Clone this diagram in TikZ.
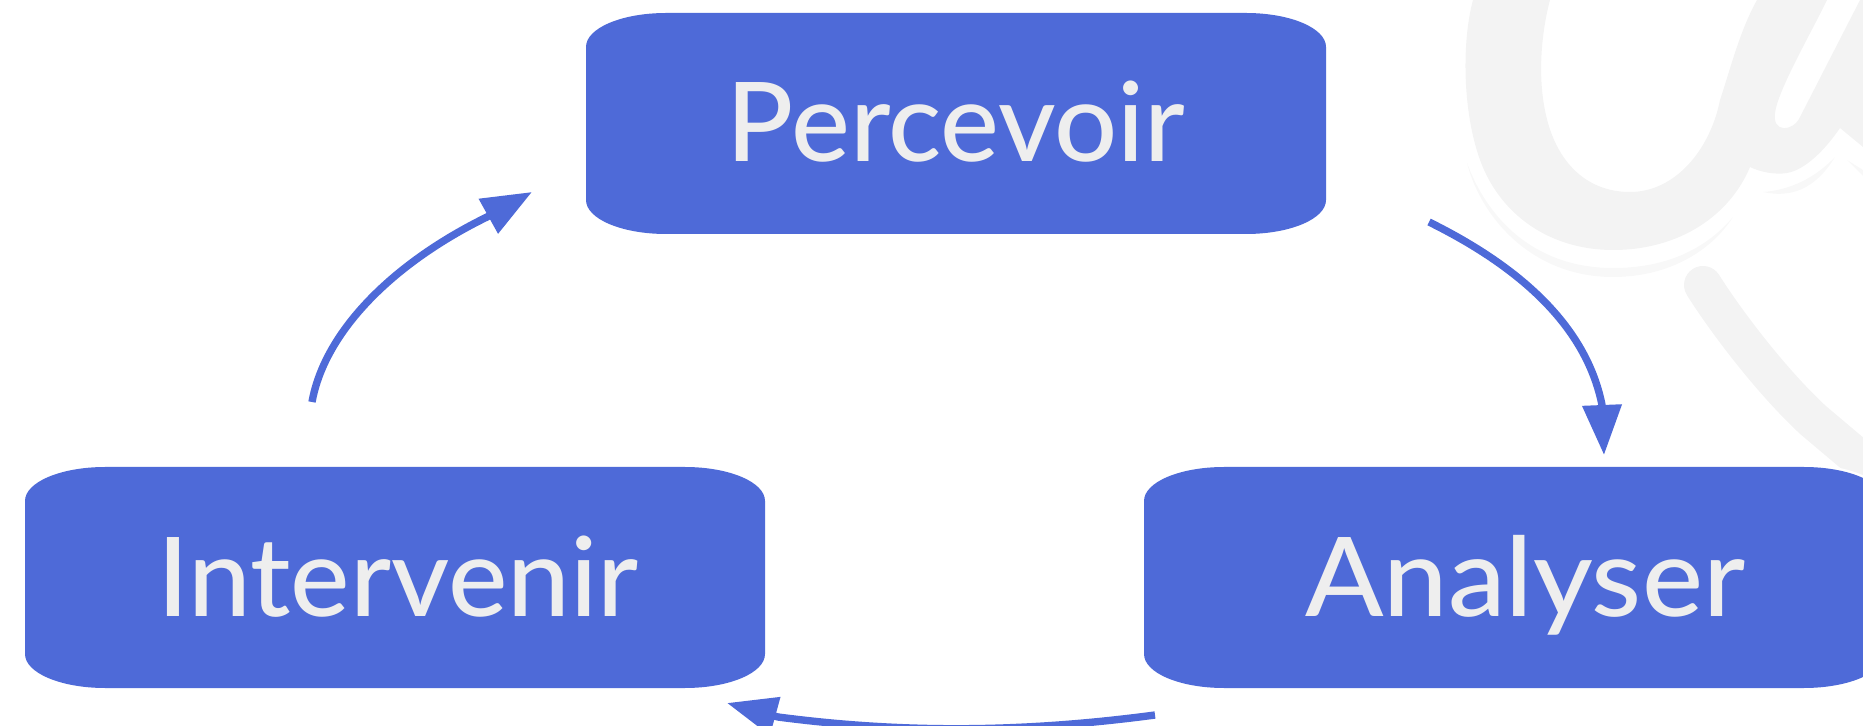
\documentclass[tikz,border=0pt]{standalone}
\usepackage{fontspec}
\setmainfont{Lato Medium}
\usetikzlibrary{arrows.meta}
\definecolor{boxblue}{HTML}{4E6AD8}
\definecolor{labelgrey}{HTML}{EEEEEE}
\definecolor{markgrey}{HTML}{F3F3F3}
\definecolor{markfaint}{HTML}{F8F8F8}
\tikzset{
  ovalfill/.style={fill=boxblue,preaction={draw=white,line width=2.5pt}},
  boxlabel/.style={anchor=base,inner sep=0pt,text=labelgrey,font=\fontsize{55}{60}\selectfont},
  flow/.style={draw=boxblue,line width=3.7pt,-{Triangle[length=25pt,width=19pt]}}
}
\newcommand{\ovalbox}[6]{%
  \path[ovalfill] (#1,#2) ++(80,0) -- ++(580,0)
    .. controls +(44,0) and +(0,-19) .. ++(80,34) -- ++(0,153)
    .. controls +(0,19) and +(44,0) .. ++(-80,34) -- ++(-580,0)
    .. controls +(-44,0) and +(0,19) .. ++(-80,-34) -- ++(0,-153)
    .. controls +(0,-19) and +(-44,0) .. ++(80,-34) -- cycle;
  \node[boxlabel] (#3) at (#4) {\addfontfeature{FakeStretch=#6}#5};}
\begin{document}
\begin{tikzpicture}[x=0.5pt,y=-0.5pt]
\useasboundingbox (0,0) rectangle (1863,726);
\clip (0,0) rectangle (1863,726);
% watermark
\fill[markfaint] (1467,163) .. controls (1480,215) and (1530,277) .. (1613,277)
  .. controls (1670,277) and (1712,250) .. (1733,217)
  .. controls (1705,250) and (1665,268) .. (1613,268)
  .. controls (1540,268) and (1490,225) .. (1467,163) -- cycle;
\fill[markfaint] (1763,192) .. controls (1790,198) and (1815,190) .. (1835,157)
  .. controls (1815,178) and (1790,190) .. (1763,192) -- cycle;
\fill[markfaint] (1847,160) -- (1863,170) -- (1863,176) -- cycle;
\fill[markgrey] (1473,0) .. controls (1462,40) and (1462,110) .. (1480,160)
  .. controls (1500,215) and (1550,250) .. (1613,250)
  .. controls (1680,250) and (1730,215) .. (1750,167)
  .. controls (1760,172) and (1775,175) .. (1787,173)
  .. controls (1805,170) and (1825,150) .. (1840,128)
  -- (1863,147) -- (1863,0) -- (1860,0)
  -- (1800,117) .. controls (1793,132) and (1772,133) .. (1775,113)
  .. controls (1778,90) and (1810,35) .. (1827,0)
  -- (1757,0) .. controls (1740,30) and (1730,70) .. (1720,100)
  .. controls (1710,150) and (1675,192) .. (1630,192)
  .. controls (1585,192) and (1553,160) .. (1544,105)
  .. controls (1538,70) and (1542,30) .. (1550,0) -- cycle;
\draw[markgrey,line width=19pt,line cap=round] (1703,285)
  .. controls (1725,320) and (1770,380) .. (1813,420) -- (1890,485);
% boxes
\ovalbox{586}{13}{perc}{956,162}{Percevoir}{1.01}
\ovalbox{25}{467}{inter}{398,617}{Intervenir}{1.02}
\ovalbox{1144}{467}{anal}{1525,617}{Analyser}{1.047}
% connector ends
\coordinate (percOut) at (1429,222);
\coordinate (analIn) at (1604,455);
\coordinate (analOut) at (1155,715);
\coordinate (interIn) at (727,703);
\coordinate (interOut) at (312,402);
\coordinate (percIn) at (532,192);
% connectors
\draw[flow] (percOut) .. controls (1510,262) and (1585,320) .. (1602,405) -- (analIn);
\draw[flow] (analOut) .. controls (1020,733) and (900,733) .. (778,717) -- (interIn);
\draw[flow] (interOut) .. controls (325,330) and (395,262) .. (487,217) -- (percIn);
\end{tikzpicture}
\end{document}
